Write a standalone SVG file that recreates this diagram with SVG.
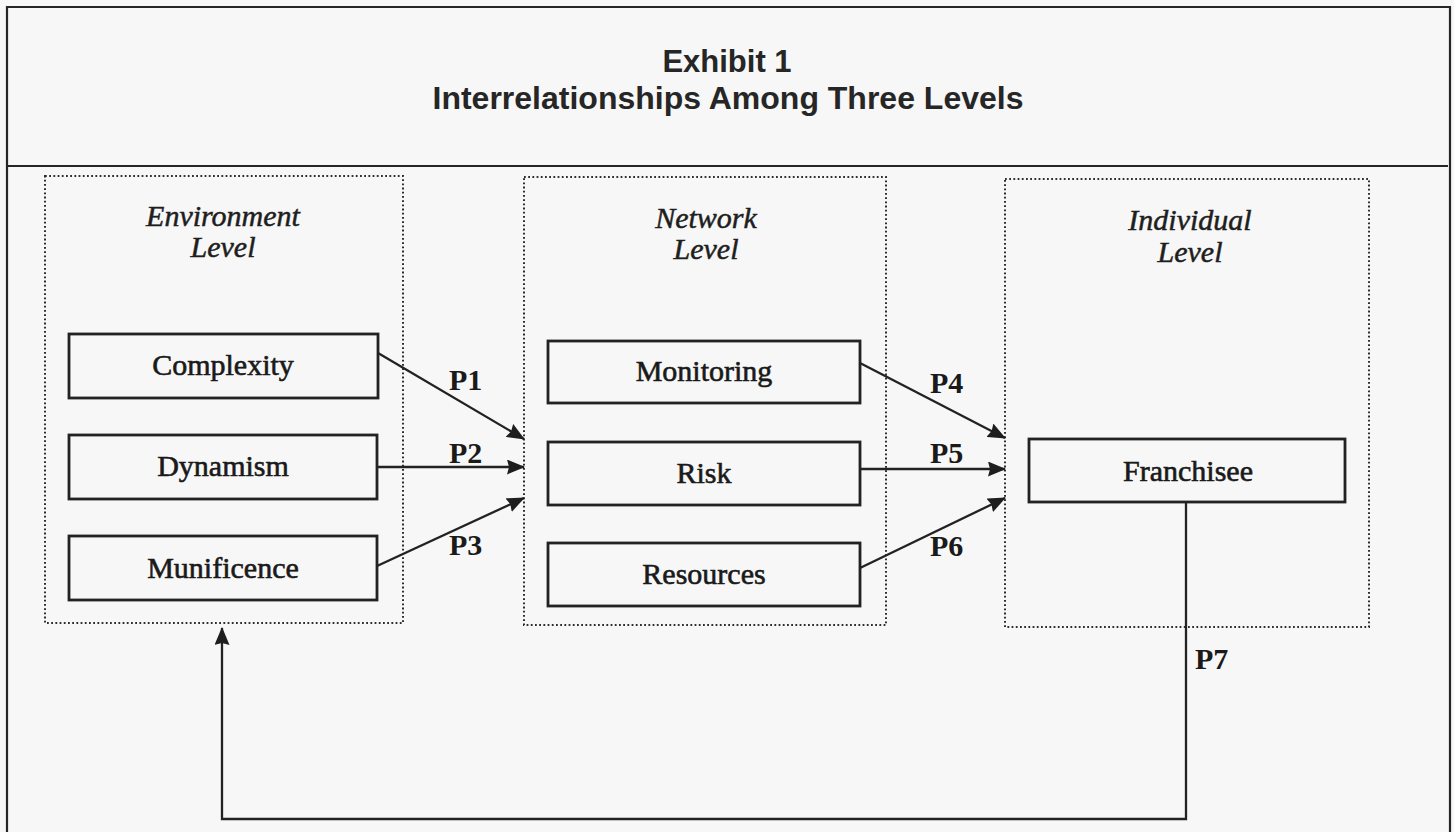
<svg xmlns="http://www.w3.org/2000/svg" width="1454" height="832" viewBox="0 0 1454 832">
  <defs>
    <style>
      .frame { fill: none; stroke: #262626; stroke-width: 2.2; }
      .level { fill: none; stroke: #2e2e2e; stroke-width: 2; stroke-dasharray: 1.8 2.4; }
      .box { fill: none; stroke: #222; stroke-width: 2.8; }
      .edge { fill: none; stroke: #222; stroke-width: 2.3; }
      .title { font-family: "Liberation Sans", Arial, sans-serif; font-weight: bold; fill: #262626; text-anchor: middle; }
      .head { font-family: "Liberation Serif", "Times New Roman", serif; font-style: italic; font-size: 30px; fill: #1e1e1e; stroke: #1e1e1e; stroke-width: 0.5; text-anchor: middle; }
      .label { font-family: "Liberation Serif", "Times New Roman", serif; font-size: 30px; fill: #1a1a1a; stroke: #1a1a1a; stroke-width: 0.6; text-anchor: middle; }
      .p { font-family: "Liberation Serif", "Times New Roman", serif; font-weight: bold; font-size: 30px; fill: #1a1a1a; }
    </style>
    <marker id="arrow" viewBox="0 0 18 15" refX="17" refY="7.5" markerWidth="18" markerHeight="15" markerUnits="userSpaceOnUse" orient="auto">
      <path d="M0,0 L18,7.5 L0,15 L2,7.5 Z" fill="#1e1e1e"/>
    </marker>
  </defs>

  <rect x="0" y="0" width="1454" height="832" fill="#f7f7f7"/>

  <!-- page frame and title rule -->
  <g id="frame">
    <path class="frame" d="M7,832 V7 H1450 V832"/>
    <line class="frame" x1="7" y1="166" x2="1448" y2="166" stroke-width="2.8"/>
  </g>

  <g id="title">
    <text class="title" x="727" y="72" font-size="31">Exhibit 1</text>
    <text class="title" x="728" y="109" font-size="32">Interrelationships Among Three Levels</text>
  </g>

  <!-- level containers -->
  <g id="environment-level">
    <rect class="level" x="45" y="176" width="358" height="447"/>
    <text class="head" x="223" y="226">Environment</text>
    <text class="head" x="223" y="257">Level</text>
  </g>
  <g id="network-level">
    <rect class="level" x="524" y="177" width="362" height="448"/>
    <text class="head" x="706" y="228">Network</text>
    <text class="head" x="706" y="259">Level</text>
  </g>
  <g id="individual-level">
    <rect class="level" x="1005" y="179" width="364" height="448"/>
    <text class="head" x="1190" y="230">Individual</text>
    <text class="head" x="1190" y="262">Level</text>
  </g>

  <!-- environment factors -->
  <g id="complexity">
    <rect class="box" x="69" y="334" width="309" height="64"/>
    <text class="label" x="223" y="375">Complexity</text>
  </g>
  <g id="dynamism">
    <rect class="box" x="69" y="435" width="308" height="64"/>
    <text class="label" x="223" y="476">Dynamism</text>
  </g>
  <g id="munificence">
    <rect class="box" x="69" y="536" width="308" height="64"/>
    <text class="label" x="223" y="578">Munificence</text>
  </g>

  <!-- network factors -->
  <g id="monitoring">
    <rect class="box" x="548" y="341" width="312" height="62"/>
    <text class="label" x="704" y="381">Monitoring</text>
  </g>
  <g id="risk">
    <rect class="box" x="548" y="442" width="312" height="63"/>
    <text class="label" x="704" y="483">Risk</text>
  </g>
  <g id="resources">
    <rect class="box" x="548" y="543" width="312" height="63"/>
    <text class="label" x="704" y="584">Resources</text>
  </g>

  <!-- individual -->
  <g id="franchisee">
    <rect class="box" x="1029" y="439" width="316" height="63"/>
    <text class="label" x="1188" y="481">Franchisee</text>
  </g>

  <!-- propositions P1-P7 -->
  <g id="connectors">
    <line class="edge" x1="378" y1="353" x2="524" y2="439" marker-end="url(#arrow)"/>
    <line class="edge" x1="378" y1="467" x2="524" y2="467" marker-end="url(#arrow)"/>
    <line class="edge" x1="377" y1="566" x2="524" y2="498" marker-end="url(#arrow)"/>
    <line class="edge" x1="860" y1="363" x2="1005" y2="438" marker-end="url(#arrow)"/>
    <line class="edge" x1="860" y1="469" x2="1005" y2="469" marker-end="url(#arrow)"/>
    <line class="edge" x1="860" y1="568" x2="1005" y2="498" marker-end="url(#arrow)"/>
    <path class="edge" d="M1186,502 V819 H222 V628" marker-end="url(#arrow)"/>

    <text class="p" x="449" y="390">P1</text>
    <text class="p" x="449" y="463">P2</text>
    <text class="p" x="449" y="555">P3</text>
    <text class="p" x="930" y="393">P4</text>
    <text class="p" x="930" y="463">P5</text>
    <text class="p" x="930" y="556">P6</text>
    <text class="p" x="1195" y="669">P7</text>
  </g>
</svg>
